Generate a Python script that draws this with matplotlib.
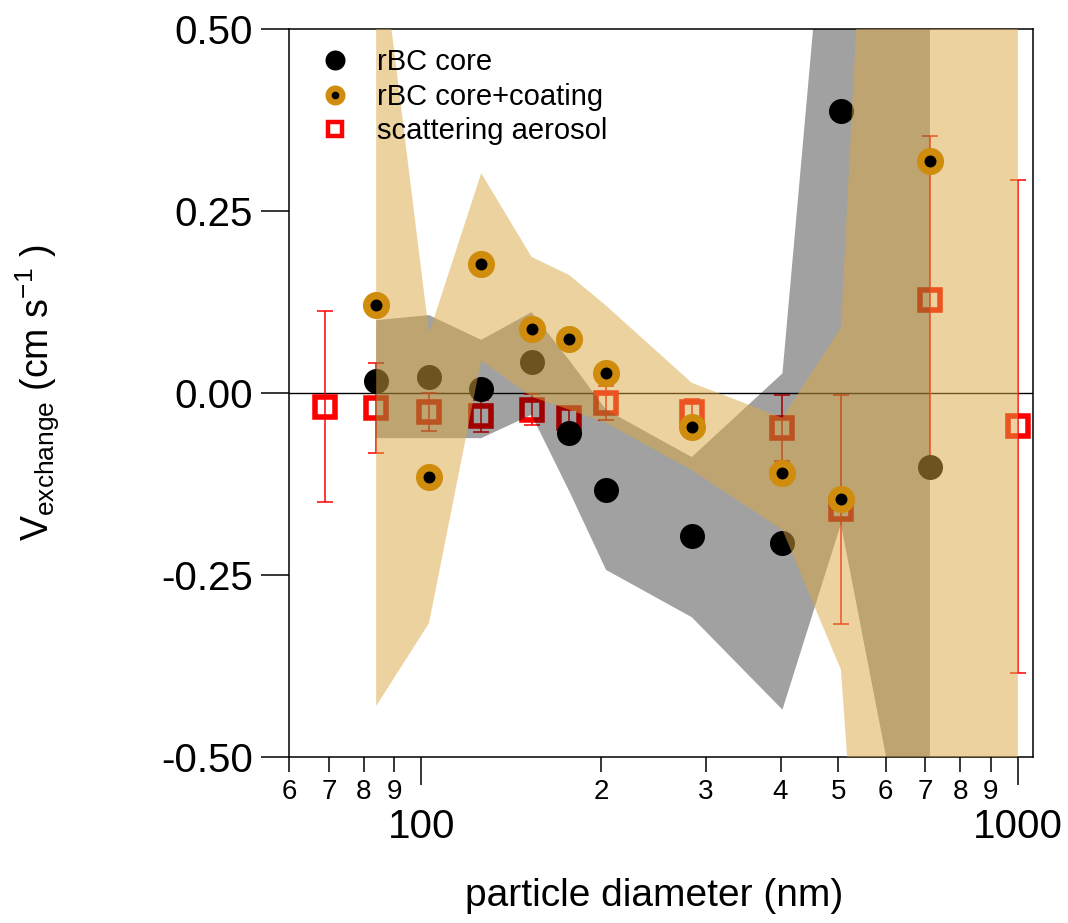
import matplotlib
matplotlib.use('Agg')
import matplotlib.pyplot as plt
from matplotlib.ticker import FixedLocator, FixedFormatter, NullLocator

plt.rcParams['font.family'] = ['Liberation Sans', 'DejaVu Sans']
plt.rcParams['mathtext.fontset'] = 'custom'
plt.rcParams['mathtext.rm'] = 'Liberation Sans'
plt.rcParams['mathtext.it'] = 'Liberation Sans:italic'
plt.rcParams['axes.unicode_minus'] = False

# ---------------- data ----------------
diam = [84, 103, 126, 153, 177, 204, 284, 403, 505, 712]
core = [0.016, 0.022, 0.005, 0.042, -0.055, -0.133, -0.197, -0.206, 0.387, -0.102]
coat = [0.121, -0.115, 0.177, 0.088, 0.074, 0.028, -0.047, -0.110, -0.146, 0.318]

scat_diam = [69, 84, 103, 126, 153, 177, 204, 284, 403, 505, 712, 1000]
scat = [-0.019, -0.021, -0.026, -0.031, -0.023, -0.034, -0.014, -0.026, -0.048, -0.160, 0.128, -0.046]
scat_err = [0.131, 0.062, 0.026, 0.022, 0.021, 0.015, 0.023, 0.018, 0.045, 0.157, 0.225, 0.338]

core_band_hi = [0.100, 0.107, 0.073, 0.111, 0.045, -0.023, -0.088, 0.027, 0.93, 2.0]
core_band_lo = [-0.062, -0.062, -0.062, -0.030, -0.135, -0.243, -0.308, -0.435, -0.18, -0.81]

coat_band_diam = [84, 103, 126, 153, 177, 204, 284, 403, 505, 712, 1000]
coat_band_hi = [0.67, 0.082, 0.302, 0.187, 0.162, 0.12, 0.014, -0.034, 0.09, 2.5, 3.0]
coat_band_lo = [-0.43, -0.316, 0.045, -0.005, -0.023, -0.041, -0.106, -0.188, -0.38, -2.1, -3.0]

xticks_major = [100, 1000]
xlabels_major = ['100', '1000']
xticks_minor = [60, 70, 80, 90, 200, 300, 400, 500, 600, 700, 800, 900]
xlabels_minor = ['6', '7', '8', '9', '2', '3', '4', '5', '6', '7', '8', '9']
yticks = [-0.5, -0.25, 0.0, 0.25, 0.5]
ylabels = ['-0.50', '-0.25', '0.00', '0.25', '0.50']

legend_labels = ['rBC core', 'rBC core+coating', 'scattering aerosol']

# ---------------- style ----------------
RED = '#ff0000'
GOLD = '#d08c0c'
TAN = '#d9a741'

W, H = 1068, 923
fig = plt.figure(figsize=(W / 100, H / 100), dpi=100)
ax = fig.add_axes([289 / W, (H - 757) / H, 744 / W, 728 / H])
ax.set_xscale('log')
ax.set_xlim(60, 1060)
ax.set_ylim(-0.5, 0.5)

ax.axhline(0, color='black', lw=1.0, zorder=1)
ax.errorbar(scat_diam, scat, yerr=scat_err, fmt='none', ecolor=RED,
            elinewidth=1.1, capsize=6.1, capthick=1.1, zorder=2)
ax.plot(scat_diam, scat, 's', ms=15, mfc='none', mec=RED, mew=4.0, zorder=2)
ax.plot(diam, core, 'o', color='black', ms=18, mew=0, zorder=3)
ax.fill_between(diam, core_band_lo, core_band_hi, color='black', alpha=0.37,
                lw=0, zorder=4)
ax.fill_between(coat_band_diam, coat_band_lo, coat_band_hi, color=TAN,
                alpha=0.5, lw=0, zorder=5)
ax.plot(diam, coat, 'o', color=GOLD, ms=19.5, mew=0, zorder=6)
ax.plot(diam, coat, 'o', color='black', ms=8.6, mew=0, zorder=7)

# ticks
ax.xaxis.set_major_locator(FixedLocator(xticks_major))
ax.xaxis.set_major_formatter(FixedFormatter(xlabels_major))
ax.xaxis.set_minor_locator(FixedLocator(xticks_minor))
ax.xaxis.set_minor_formatter(FixedFormatter(xlabels_minor))
ax.yaxis.set_major_locator(FixedLocator(yticks))
ax.yaxis.set_major_formatter(FixedFormatter(ylabels))
ax.yaxis.set_minor_locator(NullLocator())
ax.tick_params(axis='x', which='major', direction='out', length=20, width=1.1,
               labelsize=29, pad=17)
ax.tick_params(axis='x', which='minor', direction='out', length=11, width=1.1,
               labelsize=20, pad=5)
ax.tick_params(axis='y', which='major', direction='out', length=20, width=1.1,
               labelsize=29, pad=6)
for s in ax.spines.values():
    s.set_linewidth(1.1)

# labels
fig.text(654 / W, 1 - 896 / H, 'particle diameter (nm)', fontsize=28,
         ha='center', va='center')
fig.text(38 / W, 1 - 393 / H,
         r'V$_{\mathregular{exchange}}$ (cm s$^{\mathregular{-1}}$ )',
         fontsize=27, rotation=90, ha='center', va='center')

# legend (manual)
lx = (335 - 289) / 744
tx = (377 - 289) / 744
ycs = [(757 - 60) / 728, (757 - 95) / 728, (757 - 129) / 728]
ybs = [(757 - 70) / 728, (757 - 105) / 728, (757 - 139) / 728]
kw = dict(transform=ax.transAxes, clip_on=False, zorder=10)
ax.plot([lx], [ycs[0]], 'o', color='black', ms=14.4, mew=0, **kw)
ax.plot([lx], [ycs[1]], 'o', color=GOLD, ms=14.4, mew=0, **kw)
ax.plot([lx], [ycs[1]], 'o', color='black', ms=5.5, mew=0, **kw)
ax.plot([lx], [ycs[2]], 's', mfc='none', mec=RED, ms=10.4, mew=3.2, **kw)
for lab, yb in zip(legend_labels, ybs):
    ax.text(tx, yb, lab, transform=ax.transAxes, fontsize=21, ha='left',
            va='baseline', zorder=10)

fig.savefig('out.png', dpi=100)
